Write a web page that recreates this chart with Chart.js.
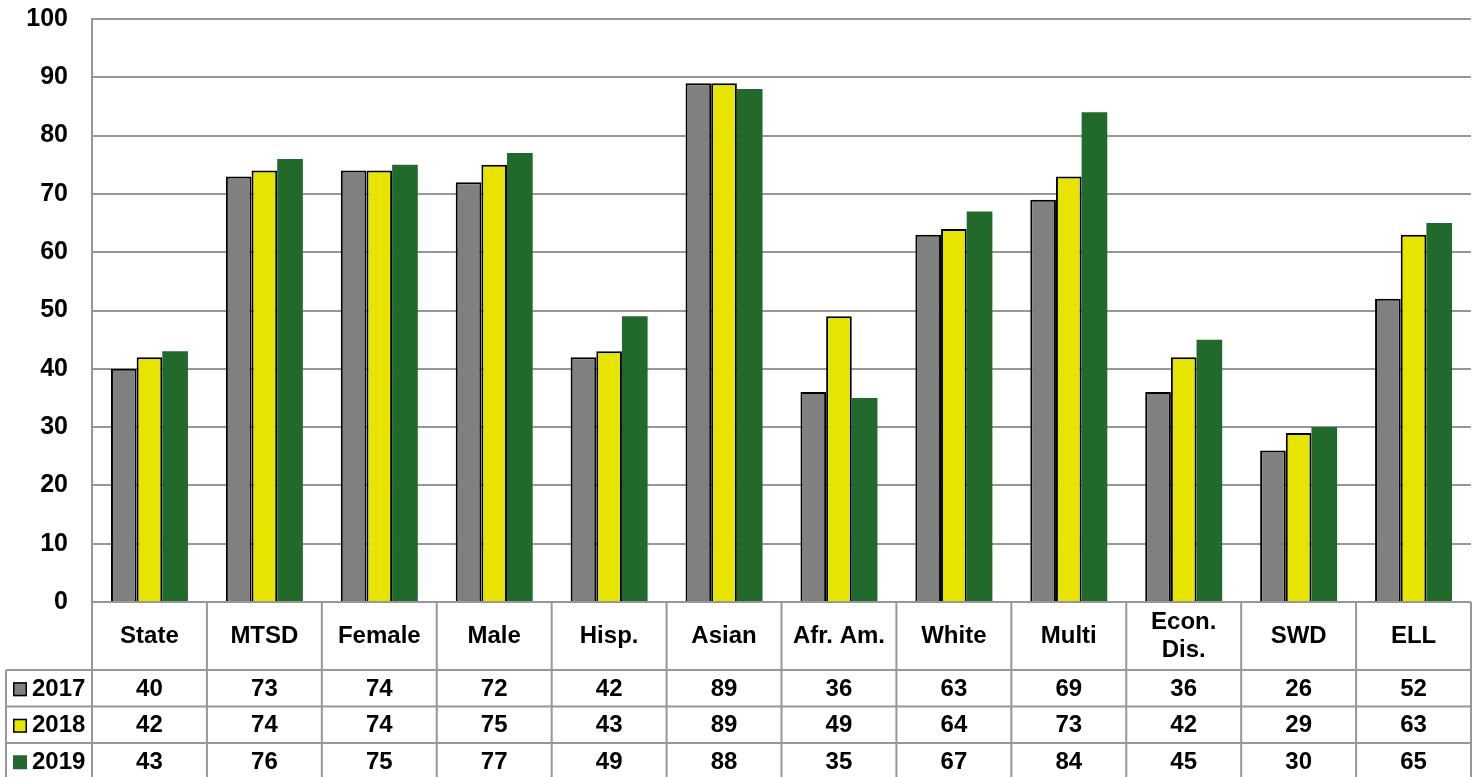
<!DOCTYPE html>
<html>
<head>
<meta charset="utf-8">
<script src="https://cdn.jsdelivr.net/npm/chart.js@4.4.1/dist/chart.umd.min.js"></script>
<style>
  html, body { margin: 0; padding: 0; background: #ffffff; }
  #wrap { width: 1474px; height: 777px; position: relative; }
</style>
</head>
<body>
<div id="wrap"><canvas id="c" width="1474" height="777"></canvas></div>
<script>
const categories = ['State', 'MTSD', 'Female', 'Male', 'Hisp.', 'Asian', 'Afr. Am.', 'White', 'Multi', ['Econ.', 'Dis.'], 'SWD', 'ELL'];
const seriesNames = ['2017', '2018', '2019'];
const values2017 = [40, 73, 74, 72, 42, 89, 36, 63, 69, 36, 26, 52];
const values2018 = [42, 74, 74, 75, 43, 89, 49, 64, 73, 42, 29, 63];
const values2019 = [43, 76, 75, 77, 49, 88, 35, 67, 84, 45, 30, 65];
const yTicks = [0, 10, 20, 30, 40, 50, 60, 70, 80, 90, 100];

const FONT = "'Liberation Sans', Arial, sans-serif";
const GRID = '#979797';

const dataTablePlugin = {
  id: 'dataTable',
  afterDraw(chart) {
    const ctx = chart.ctx;
    const x = chart.scales.x;
    const area = chart.chartArea;
    const n = categories.length;
    const cw = (x.right - x.left) / n;
    const top = area.bottom;
    const headerH = 68;
    const rowH = 36.5;
    const bottom = top + headerH + rowH * 3 + 2;
    const legendLeft = 6;
    ctx.save();
    ctx.strokeStyle = GRID;
    ctx.lineWidth = 2;
    ctx.beginPath();
    ctx.moveTo(x.left, top); ctx.lineTo(x.right, top);
    for (let r = 0; r < 3; r++) {
      const y = top + headerH + rowH * r;
      ctx.moveTo(legendLeft, y); ctx.lineTo(x.right, y);
    }
    for (let i = 0; i <= n; i++) {
      const xx = x.getPixelForValue(i) - cw / 2;
      ctx.moveTo(xx, top); ctx.lineTo(xx, bottom);
    }
    ctx.moveTo(legendLeft, top + headerH); ctx.lineTo(legendLeft, bottom);
    ctx.stroke();

    ctx.fillStyle = '#000';
    ctx.font = 'bold 24px ' + FONT;
    ctx.textAlign = 'center';
    ctx.textBaseline = 'middle';
    for (let i = 0; i < n; i++) {
      const cx = x.getPixelForValue(i);
      const lab = categories[i];
      const cy = top + headerH / 2;
      if (Array.isArray(lab)) {
        const lh = 28;
        lab.forEach((t, k) => ctx.fillText(t, cx, cy + (k - (lab.length - 1) / 2) * lh));
      } else {
        ctx.fillText(lab, cx, cy);
      }
    }
    chart.data.datasets.forEach((ds, r) => {
      const cy = top + headerH + rowH * r + rowH / 2 + 1;
      ctx.textAlign = 'center';
      ds.data.forEach((v, i) => {
        ctx.fillText(String(v), x.getPixelForValue(i), cy);
      });
      const sx = 13, sw = 14;
      ctx.fillStyle = ds.backgroundColor;
      ctx.fillRect(sx, cy - sw / 2, sw, sw);
      if (ds.borderWidth > 0) {
        ctx.strokeStyle = '#000';
        ctx.lineWidth = 1.5;
        ctx.strokeRect(sx + 0.75, cy - sw / 2 + 0.75, sw - 1.5, sw - 1.5);
      }
      ctx.fillStyle = '#000';
      ctx.textAlign = 'left';
      ctx.fillText(ds.label, 32, cy);
    });
    ctx.restore();
  }
};

new Chart(document.getElementById('c'), {
  type: 'bar',
  data: {
    labels: categories,
    datasets: [
      { label: seriesNames[0], data: values2017, backgroundColor: '#808080', borderColor: '#000000', borderWidth: 2 },
      { label: seriesNames[1], data: values2018, backgroundColor: '#E6E400', borderColor: '#000000', borderWidth: 2 },
      { label: seriesNames[2], data: values2019, backgroundColor: '#216A2C', borderColor: '#216A2C', borderWidth: 0 }
    ]
  },
  options: {
    responsive: false,
    animation: false,
    devicePixelRatio: 1,
    layout: { padding: { top: 19, bottom: 175, left: 0, right: 3 } },
    datasets: { bar: { categoryPercentage: 0.67, barPercentage: 1.0 } },
    plugins: { legend: { display: false }, tooltip: { enabled: false } },
    scales: {
      x: { display: false },
      y: {
        min: 0, max: 100,
        afterFit(scale) { scale.width = 92; scale.paddingTop = 0; scale.paddingBottom = 0; },
        afterBuildTicks(scale) { scale.ticks = yTicks.map(v => ({ value: v })); },
        ticks: { color: '#000', font: { family: FONT, size: 25, weight: 'bold' }, padding: 24 },
        grid: { color: GRID, lineWidth: 2, drawTicks: false },
        border: { color: GRID, width: 2 }
      }
    }
  },
  plugins: [dataTablePlugin]
});
</script>
</body>
</html>
